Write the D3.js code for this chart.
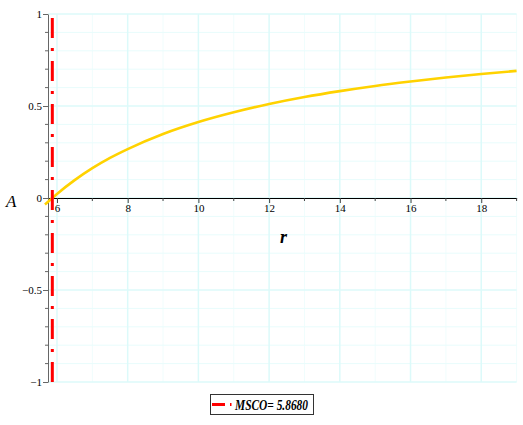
<!DOCTYPE html>
<html lang="en">
<head>
    <meta charset="UTF-8">
    <title>A vs r</title>
    <script src="https://d3js.org/d3.v7.min.js"></script>
    <style>
        html, body { margin: 0; background: #fff; }
        svg text { font-family: "Liberation Serif", "Times New Roman", "DejaVu Serif", serif !important; }
    </style>
</head>
<body>
    <div id="chart"></div>
    <script>
        // values
        var rValues = [5.66, 5.868, 6, 6.5, 7, 7.5, 8, 9, 10, 11, 12, 13, 14, 15, 16, 17, 18, 19];
        var aValues = [-0.035, 0, 0.022, 0.097, 0.162, 0.218, 0.266, 0.348, 0.413, 0.466, 0.511, 0.549, 0.581, 0.609, 0.633, 0.655, 0.674, 0.691];
        var mscoValue = 5.868;
        var legendLabel = "MSCO= 5.8680";
        var xTicks = [6, 8, 10, 12, 14, 16, 18];
        var xMinorTicks = [7, 9, 11, 13, 15, 17, 19];
        var yTicks = [-1, -0.5, 0, 0.5, 1];
        var yTickLabels = ["\u22121", "\u22120.5", "0", "0.5", "1"];

        var width = 523, height = 425;

        var svg = d3.select('#chart').append('svg')
            .attr('width', width)
            .attr('height', height);

        var x = d3.scaleLinear().domain([5.746, 19]).range([48, 516.6]);
        var y = d3.scaleLinear().domain([-1, 1]).range([382, 14]);

        // grid
        var yMinor = d3.range(-10, 11).map(function (i) { return i / 10; })
            .filter(function (v) { return yTicks.indexOf(v) < 0; });
        var grid = svg.append('g');
        grid.selectAll('.gxm').data(xMinorTicks).enter().append('line')
            .attr('x1', x).attr('x2', x).attr('y1', y(1)).attr('y2', y(-1))
            .attr('stroke', '#f0fdfd').attr('stroke-width', 1);
        grid.selectAll('.gym').data(yMinor).enter().append('line')
            .attr('x1', x(5.746)).attr('x2', x(19)).attr('y1', y).attr('y2', y)
            .attr('stroke', '#e8fcfc').attr('stroke-width', 1);
        grid.selectAll('.gx').data(xTicks).enter().append('line')
            .attr('x1', x).attr('x2', x).attr('y1', y(1)).attr('y2', y(-1))
            .attr('stroke', '#dcfafa').attr('stroke-width', 1.5);
        grid.selectAll('.gy').data(yTicks).enter().append('line')
            .attr('x1', x(5.746)).attr('x2', x(19)).attr('y1', y).attr('y2', y)
            .attr('stroke', '#dcfafa').attr('stroke-width', 1.5);

        // x axis
        var xAxis = d3.axisBottom(x).tickValues(xTicks).tickSize(5).tickSizeOuter(0)
            .tickFormat(d3.format('d'));
        var gx = svg.append('g').attr('transform', 'translate(0,' + y(0) + ')').call(xAxis);
        gx.select('.domain').attr('stroke', '#000');
        gx.selectAll('.tick line').attr('stroke', '#444');
        gx.selectAll('.tick text').attr('font-size', 11)
            .attr('fill', '#000').attr('dy', '0.9em').attr('y', 4);
        gx.selectAll('.minor').data(xMinorTicks).enter().append('line')
            .attr('x1', x).attr('x2', x).attr('y1', 0).attr('y2', 3).attr('stroke', '#444');

        // y axis
        var yAxis = d3.axisLeft(y).tickValues(yTicks).tickSize(5).tickSizeOuter(0)
            .tickFormat(function (d, i) { return yTickLabels[i]; });
        var gy = svg.append('g').attr('transform', 'translate(' + x(5.746) + ',0)').call(yAxis);
        gy.select('.domain').attr('stroke', '#666');
        gy.selectAll('.tick line').attr('stroke', '#666');
        gy.selectAll('.tick text').attr('font-size', 11)
            .attr('fill', '#000').attr('x', -6);
        gy.selectAll('.minor').data(yMinor).enter().append('line')
            .attr('x1', -3).attr('x2', 0).attr('y1', y).attr('y2', y).attr('stroke', '#666');

        // curve
        var pts = rValues.map(function (r, i) { return [r, aValues[i]]; });
        var line = d3.line()
            .x(function (d) { return x(d[0]); })
            .y(function (d) { return y(d[1]); })
            .curve(d3.curveMonotoneX);
        svg.append('path').datum(pts)
            .attr('d', line)
            .attr('fill', 'none')
            .attr('stroke', '#ffd200')
            .attr('stroke-width', 2.6);

        // MSCO vertical line
        svg.append('line')
            .attr('x1', x(mscoValue)).attr('x2', x(mscoValue))
            .attr('y1', y(-1)).attr('y2', y(1))
            .attr('stroke', '#ff0000').attr('stroke-width', 3)
            .attr('stroke-dasharray', '20,10,3,10');

        // axis titles
        svg.append('text').attr('x', 6).attr('y', 207)
            .attr('font-size', 17).attr('font-style', 'italic').text('A');
        svg.append('text').attr('x', 280).attr('y', 243)
            .attr('font-size', 18).attr('font-style', 'italic').attr('font-weight', 'bold').text('r');

        // legend
        var lg = svg.append('g');
        lg.append('rect').attr('x', 210.5).attr('y', 394.5).attr('width', 103).attr('height', 20)
            .attr('fill', '#fff').attr('stroke', '#333').attr('stroke-width', 1);
        lg.append('line').attr('x1', 212).attr('x2', 232).attr('y1', 404.5).attr('y2', 404.5)
            .attr('stroke', '#ff0000').attr('stroke-width', 3).attr('stroke-dasharray', '13,5,1.5,10');
        lg.append('text').attr('x', 235).attr('y', 410)
            .attr('font-size', 15).attr('font-style', 'italic').attr('font-weight', 'bold')
            .attr('textLength', 73).attr('lengthAdjust', 'spacingAndGlyphs')
            .text(legendLabel);
    </script>
</body>
</html>
